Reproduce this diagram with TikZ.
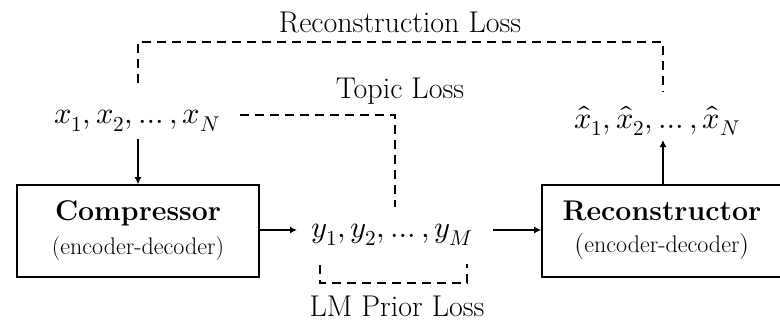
\documentclass[tikz,border=0pt]{standalone}
\usepackage{fontspec}
\usepackage{unicode-math}
\setmathfont{Latin Modern Math}
\usetikzlibrary{arrows.meta,calc}
\newcommand{\titlesize}{\fontsize{28.5}{33}\selectfont\bfseries}
\newcommand{\subsize}{\fontsize{24}{28}\selectfont\mdseries}
\begin{document}
\begin{tikzpicture}[x=1pt,y=-1pt,
  box/.style={draw,line width=1.6pt,inner sep=0pt,align=center,font=\subsize},
  flow/.style={line width=1.5pt,-{Latex[length=7pt,width=7pt]}},
  lossline/.style={line width=1.5pt,dash pattern=on 9pt off 6pt},
  lbl/.style={font=\fontsize{30}{34}\selectfont,inner sep=0pt},
  seq/.style={font=\fontsize{30.5}{34}\selectfont,inner sep=0pt}]
\useasboundingbox (0,0) rectangle (780,322);
% boxes
\node[box,minimum width=242pt,minimum height=92pt] (comp) at (138,231)
  {{\titlesize Compressor}\\[6pt](encoder-decoder)};
\node[box,minimum width=240pt,minimum height=92pt] (rec) at (662,231)
  {{\titlesize Reconstructor}\\[4pt]$\bigl($encoder-decoder$\bigr)$};
% sequences
\node[seq] (x) at (137,121) {$x_1, x_2, \ldots, x_N$};
\node[seq] (y) at (392,235) {$y_1, y_2, \ldots, y_M$};
\node[seq] (xh) at (657,121) {$\hat{x}_1, \hat{x}_2, \ldots, \hat{x}_N$};
% loss labels
\node[lbl] (rl) at (400,22) {Reconstruction Loss};
\node[lbl] (tl) at (400,91) {Topic Loss};
\node[lbl] (ll) at (397,306) {LM Prior Loss};
% connectors
\coordinate (xtop) at (138,83);
\coordinate (xbot) at (138,139);
\coordinate (xhtop) at (663,92);
\coordinate (xhbot) at (663,140);
\coordinate (rtop) at (400,42);
\coordinate (xr) at (240,115);
\coordinate (ytop) at (395,207);
\coordinate (yl) at (320,265);
\coordinate (yr) at (467,264);
\coordinate (lbot) at (400,283);
\draw[flow] (xbot) -- (xbot |- comp.north);
\draw[flow] (comp.east |- 0,230) -- (297,230);
\draw[flow] (493,230) -- (rec.west |- 0,230);
\draw[flow] (xhbot |- rec.north) -- (xhbot);
\draw[lossline] (xtop) |- (rtop) -| (xhtop);
\draw[lossline] (xr) -| (ytop);
\draw[lossline] (yl) |- (lbot) -| (yr);
\end{tikzpicture}
\end{document}
